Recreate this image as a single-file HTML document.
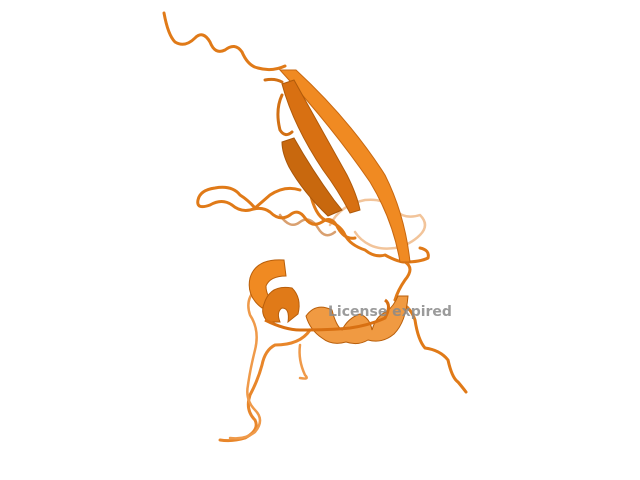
<!DOCTYPE html>
<html><head><meta charset="utf-8"><style>
html,body{margin:0;padding:0;background:#fff;width:640px;height:480px;overflow:hidden}
svg{display:block}
</style></head><body>
<svg width="640" height="480" viewBox="0 0 640 480">
<g fill="none" stroke-linecap="round" stroke-linejoin="round">
  <path d="M330,225 Q340,205 365,200 Q385,198 395,210 Q405,220 420,215 Q430,225 420,235 Q410,245 395,248 Q380,250 370,245 Q360,240 355,232" stroke="#f2c49a" stroke-width="2.5"/>
  <path d="M280,215 Q290,230 300,222 Q310,215 318,228 Q325,240 335,232" stroke="#d9a070" stroke-width="2.5"/>
  <path d="M164,13 Q168,35 175,42 Q185,48 195,38 Q203,30 210,42 Q215,55 225,50 Q235,42 242,52 Q248,66 258,68 Q272,72 285,66" stroke="#e07a18" stroke-width="3"/>
  <path d="M300,190 Q285,185 270,195 Q262,202 255,208 Q248,200 240,195 Q232,185 215,188 Q200,190 198,200 Q196,210 210,205 Q222,198 232,205 Q240,212 250,210 Q262,206 270,212 Q280,222 290,215 Q298,208 305,218 Q312,228 322,222 Q332,215 338,228 Q345,240 355,238" stroke="#e07a18" stroke-width="3"/>
  <path d="M310,192 Q315,215 325,220 Q340,224 345,235 Q350,245 365,250 Q375,258 385,255 Q398,262 405,262 Q415,268 405,280 Q398,290 395,300" stroke="#e07a18" stroke-width="3"/>
  <path d="M265,80 Q275,78 282,82 M282,95 Q275,110 280,130 Q285,138 292,132" stroke="#d27014" stroke-width="3"/>
  <path d="M405,262 Q420,262 428,258 Q430,250 420,248" stroke="#e07a18" stroke-width="3"/>
  <path d="M310,330 Q300,345 275,345 Q265,350 262,365 Q258,380 250,395 Q245,410 255,420 Q260,430 245,438 Q232,442 220,440" stroke="#e8862a" stroke-width="3"/>
  <path d="M255,290 Q245,300 250,315 Q260,330 255,350 Q250,370 248,385 Q245,400 255,410 Q265,420 255,432 Q245,440 230,438" stroke="#ef9a4a" stroke-width="2.5"/>
  <path d="M300,345 Q298,360 305,375 Q310,380 300,378" stroke="#ef9a4a" stroke-width="2.5"/>
  <path d="M395,300 Q410,305 415,320 Q418,340 425,348 Q440,350 448,360 Q452,378 458,382 Q463,388 466,392" stroke="#e07a18" stroke-width="3"/>
</g>
<path d="M280,70 L296,70 Q350,120 385,175 Q405,215 410,262 L400,262 Q393,220 370,182 Q333,128 280,70 Z" fill="#f08a22" stroke="#c86810" stroke-width="1"/>
<path d="M282,84 L294,80 Q322,130 347,175 Q357,195 360,210 L350,213 Q338,190 323,170 Q293,125 282,84 Z" fill="#d87012" stroke="#b05a0a" stroke-width="1"/>
<path d="M282,142 L294,138 Q312,170 334,200 L342,210 L328,216 Q303,192 289,167 Q282,153 282,142 Z" fill="#c8680e" stroke="#a8560a" stroke-width="1"/>
<g stroke="#b85e0a" stroke-width="1">
  <path d="M250,278 Q256,258 284,260 L286,276 Q270,276 266,286 Q266,296 274,302 L262,308 Q246,296 250,278 Z" fill="#f08a22"/>
  <path d="M264,304 Q270,284 292,288 Q302,298 298,314 L288,322 Q290,308 282,308 Q276,312 280,322 L268,322 Q260,314 264,304 Z" fill="#e07a18"/>
  <path d="M306,316 Q316,302 332,310 Q336,326 342,330 Q348,318 360,314 Q370,318 372,330 Q376,316 386,312 Q394,306 398,296 L408,296 Q406,322 394,334 Q382,344 368,340 Q358,346 346,342 Q332,346 322,338 Q310,330 306,316 Z" fill="#f09a42"/>
</g>
<path d="M265,320 Q285,330 300,330 Q330,330 350,328 Q370,325 385,318 Q392,305 385,300" fill="none" stroke="#d87012" stroke-width="3"/>
<text x="328" y="316" font-family="'DejaVu Sans','Liberation Sans',sans-serif" font-size="14" font-weight="bold" fill="#8a8a8a" fill-opacity="0.85">License expired</text>
</svg>
</body></html>
